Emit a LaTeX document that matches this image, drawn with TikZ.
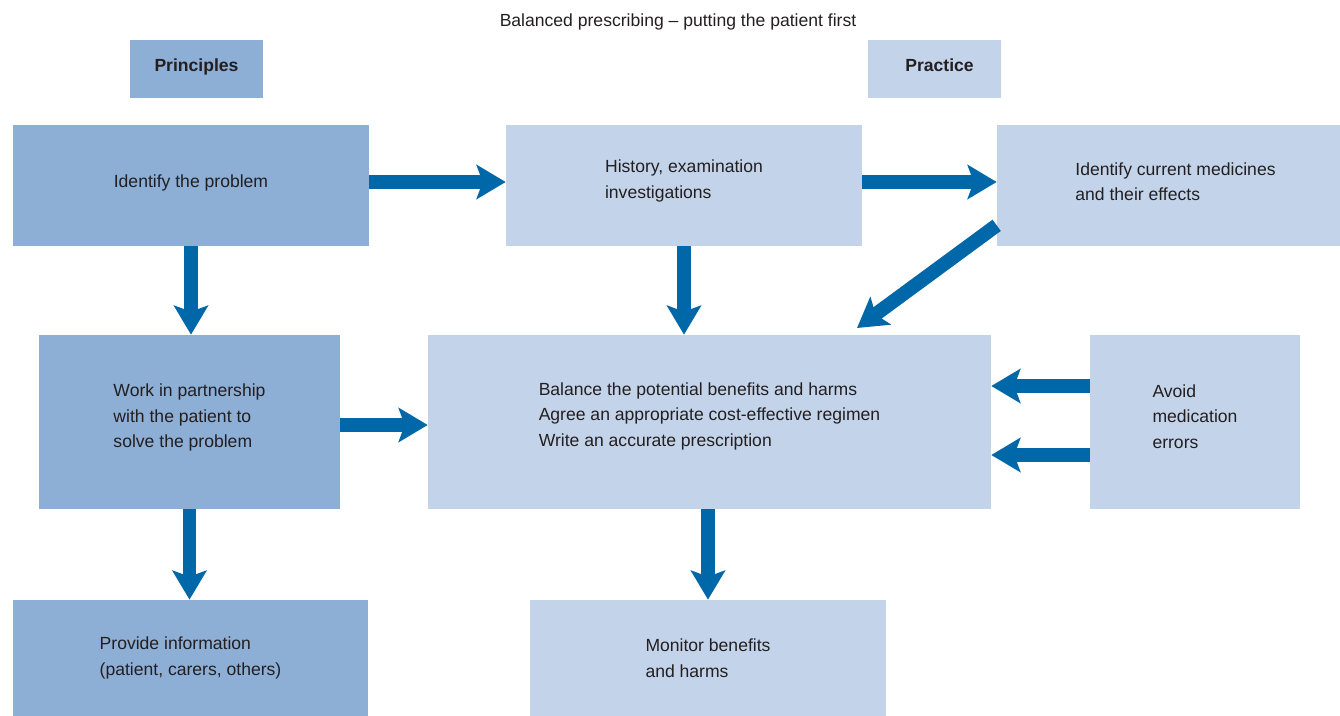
\documentclass[tikz,border=0pt]{standalone}
\usepackage{fontspec}
\setmainfont{Liberation Sans}
\usetikzlibrary{arrows.meta}
\definecolor{principleBlue}{HTML}{8DAED5}
\definecolor{practiceBlue}{HTML}{C3D4EA}
\definecolor{arrowBlue}{HTML}{0068A8}
\definecolor{textGrey}{HTML}{231F20}
% extra depth under the last line, lifts the text in its box
\newcommand{\liftBy}[1]{\rule[-#1]{0pt}{#1}}

\begin{document}
\begin{tikzpicture}
[x=0.02cm,y=-0.02cm,
  every node/.style={text=textGrey,font=\fontsize{10}{14.5}\selectfont},
  boxDecorate/.style={shape=rectangle,inner sep=0pt,align=left},
  darkBox/.style={boxDecorate,fill=principleBlue},
  lightBox/.style={boxDecorate,fill=practiceBlue},
  arrowDecorate/.style={-{Stealth[length=0.58cm,width=0.68cm,inset=0.12cm]},
    line width=0.28cm,draw=arrowBlue}]
\useasboundingbox (0,0) rectangle (1340,716);
%% headings
\node (title) at (678,22) {Balanced prescribing -- putting the patient first};
\node (princ) at (196.5,69) [darkBox,minimum width=2.66cm,minimum height=1.16cm]
  {\bfseries Principles\liftBy{4.5pt}};
\node (pract) at (934.5,69) [lightBox,minimum width=2.66cm,minimum height=1.16cm]
  {\hspace*{0.2cm}\bfseries Practice\liftBy{4.5pt}};
%% boxes
\node (prob) at (191,185.5) [darkBox,minimum width=7.12cm,minimum height=2.42cm]
  {Identify the problem\liftBy{4.5pt}};
\node (hist) at (684,185.5) [lightBox,minimum width=7.12cm,minimum height=2.42cm]
  {History, examination\\investigations\liftBy{7pt}};
\node (cur) at (1168.5,185.5) [lightBox,minimum width=6.86cm,minimum height=2.42cm]
  {\hspace*{0.28cm}Identify current medicines\\\hspace*{0.28cm}and their effects\liftBy{4.5pt}};
\node (work) at (189.5,422) [darkBox,minimum width=6.02cm,minimum height=3.48cm]
  {Work in partnership\\with the patient to\\solve the problem\liftBy{7pt}};
\node (bal) at (709.5,422) [lightBox,minimum width=11.26cm,minimum height=3.48cm]
  {Balance the potential benefits and harms\\Agree an appropriate cost-effective regimen\\Write an accurate prescription\liftBy{8.5pt}};
\node (avoid) at (1195,422) [lightBox,minimum width=4.2cm,minimum height=3.48cm]
  {Avoid\\medication\\errors\liftBy{6.5pt}};
\node (info) at (190.5,658) [darkBox,minimum width=7.1cm,minimum height=2.32cm]
  {Provide information\\(patient, carers, others)};
\node (mon) at (708,658) [lightBox,minimum width=7.12cm,minimum height=2.32cm]
  {Monitor benefits\\and harms};
%% arrow ends
\coordinate (probOut) at ([yshift=0.07cm]prob.east);
\coordinate (histOut) at ([yshift=0.07cm]hist.east);
\coordinate (workOut) at ([yshift=-0.06cm]work.east);
\coordinate (diagStart) at ([yshift=0.42cm]cur.south west);
\coordinate (diagEnd) at (857,328);
\coordinate (avoidA) at ([yshift=0.72cm]avoid.west);
\coordinate (avoidB) at ([yshift=-0.66cm]avoid.west);
%% arrows
\path
\foreach \startnode/\endnode in {
  probOut/probOut -| hist.west, histOut/histOut -| cur.west,
  prob.south/prob.south |- work.north, hist.south/hist.south |- bal.north,
  workOut/workOut -| bal.west, work.south/work.south |- info.north,
  mon.north |- bal.south/mon.north, diagStart/diagEnd,
  avoidA/avoidA -| bal.east, avoidB/avoidB -| bal.east}
{
  (\startnode) edge[arrowDecorate] (\endnode)
};
\end{tikzpicture}
\end{document}
